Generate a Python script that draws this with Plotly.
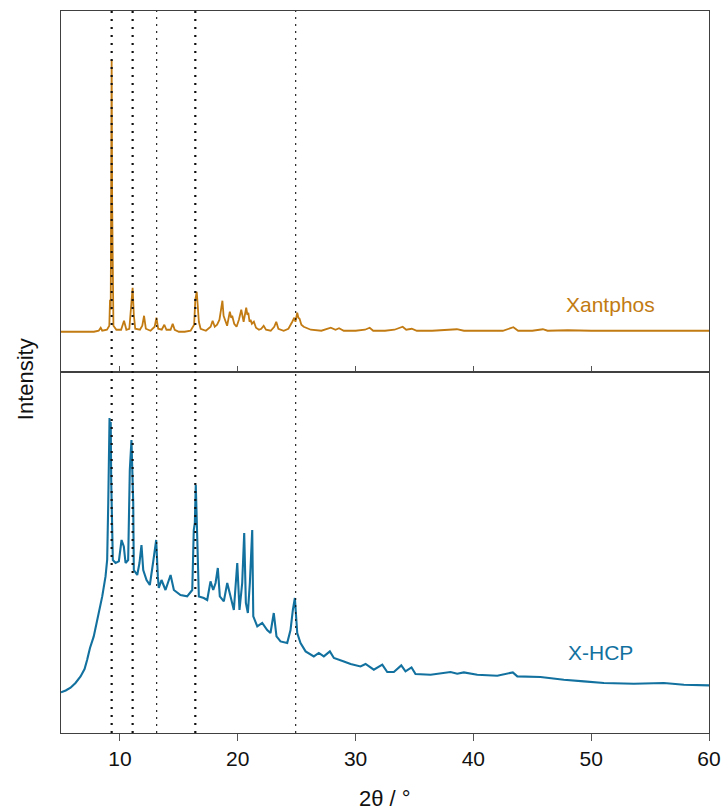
import plotly.graph_objects as go
from plotly.subplots import make_subplots

# ---- Xantphos (top panel) : 2theta and intensity (a.u.) ----
xantphos_2theta = [5.0, 7.8, 8.2, 8.37, 8.5, 8.9, 9.1, 9.16, 9.22, 9.27, 9.30, 9.34, 9.38, 9.45, 9.7,
                   10.1, 10.35, 10.55, 10.8, 11.0, 11.08, 11.18, 11.3, 11.7, 11.9, 12.05, 12.2, 12.6,
                   12.95, 13.1, 13.25, 13.55, 13.77, 13.95, 14.3, 14.48, 14.65, 15.0, 15.5, 16.0, 16.3,
                   16.4, 16.52, 16.6, 16.7, 16.85, 17.3, 17.7, 17.87, 18.05, 18.25, 18.45, 18.62, 18.7,
                   18.8, 18.95, 19.1, 19.33, 19.45, 19.53, 19.7, 19.9, 20.1, 20.3, 20.5, 20.72, 20.82,
                   20.9, 21.0, 21.09, 21.2, 21.37, 21.55, 21.8, 22.0, 22.2, 22.4, 22.8, 23.1, 23.27,
                   23.45, 23.9, 24.3, 24.63, 24.8, 24.9, 25.05, 25.15, 25.25, 25.4, 25.6, 26.2, 27.1,
                   27.9, 28.3, 28.6, 29.0, 30.0, 30.8, 31.2, 31.5, 32.5, 33.3, 34.0, 34.3, 34.77, 35.2,
                   36.5, 37.5, 38.6, 39.2, 41.0, 42.5, 43.4, 43.8, 45.0, 45.9, 46.3, 48.0, 50.0, 52.0,
                   53.0, 60.0]
xantphos_int = [0, 0, 1, 4, 1, 2, 6, 32, 22, 212, 272, 132, 32, 6, 2,
                2, 11, 2, 3, 27, 44, 17, 3, 2, 6, 16, 3, 1,
                5, 14, 3, 2, 7, 2, 2, 8, 2, 0, 0, 1, 7,
                32, 40, 27, 10, 3, 1, 5, 11, 5, 7, 12, 27, 31,
                16, 10, 6, 20, 14, 16, 8, 5, 12, 22, 10, 24, 17,
                19, 10, 12, 8, 10, 4, 2, 3, 6, 2, 1, 5, 10,
                3, 1, 3, 10, 14, 10, 19, 14, 13, 7, 5, 2, 1,
                4, 2, 3.5, 1, 1, 2, 4, 1, 1, 2, 5, 2, 3, 1,
                1, 1.5, 2.5, 1, 1, 1, 4.5, 1, 1, 2.5, 1, 1.5, 1, 1.5,
                1, 1]

# ---- X-HCP (bottom panel) ----
xhcp_2theta = [5.0, 5.4, 5.81, 6.23, 6.66, 7.0, 7.22, 7.46, 7.78, 8.0, 8.21, 8.5, 8.78, 8.92, 9.01,
               9.12, 9.17, 9.22, 9.26,
               9.40, 9.63, 9.91, 10.14, 10.33, 10.48, 10.70, 10.84, 10.98, 11.13, 11.18, 11.47, 11.66,
               11.83, 11.98, 12.26, 12.54, 12.83, 13.08, 13.22, 13.30, 13.53, 13.87, 14.30, 14.58,
               15.14, 15.71, 16.14, 16.27, 16.36, 16.44, 16.56, 16.70, 17.12, 17.41, 17.69, 17.92,
               18.12, 18.31, 18.48, 18.82, 19.11, 19.39, 19.67, 19.96, 20.15, 20.38, 20.55, 20.69,
               20.86, 21.03, 21.23, 21.32, 21.66, 22.08, 22.50, 22.78, 23.06, 23.29, 23.63, 24.20,
               24.48, 24.68, 24.85, 25.05, 25.33, 25.76, 26.46, 26.88, 27.31, 27.82, 28.16, 29.01,
               29.58, 30.42, 30.85, 31.55, 32.27, 32.69, 33.25, 33.88, 34.24, 34.75, 35.09, 36.37,
               38.06, 38.63, 39.19, 40.33, 42.03, 43.35, 43.73, 45.70, 47.12, 47.68, 49.38, 51.08,
               53.62, 56.17, 57.87, 60.0]
xhcp_int = [40.6, 42.5, 45.3, 50, 56.6, 64, 73.3, 85, 96.6, 108, 120.3, 136.6, 156.6, 173.3, 230,
            315, 293, 311, 253,
            173, 170, 171.6, 193, 186.6, 170, 173, 263, 293, 230, 163, 158, 170,
            188, 163, 153, 148, 171.6, 193, 156.6, 145, 153, 143, 158, 143,
            138, 136.6, 143, 203, 210, 248, 196.6, 136.6, 135, 133, 151.6, 143,
            150, 165, 136.6, 131.6, 150, 136.6, 123, 170, 123, 150, 200, 130,
            120, 150, 203, 116.6, 106.6, 110, 103, 100, 120, 96.6, 91.6, 90,
            103, 123, 135, 100, 90, 81.6, 76.6, 80, 76.6, 81.6, 75, 71.6,
            69, 66.6, 69, 63.3, 68.3, 61, 61, 67.6, 61.6, 65.6, 59, 58.3,
            61, 59.3, 60.6, 58.3, 57.3, 60.6, 56.6, 56, 54, 53.3, 51.6, 50,
            49.3, 50, 48.3, 47.6]

# reference reflection positions (dotted guide lines)
guide_positions = [9.3, 11.08, 13.12, 16.4, 24.92]
guide_bold = [True, True, False, True, False]

x_ticks = [10, 20, 30, 40, 50, 60]
x_range = [5, 60]
top_range = [-40.3, 321]
bottom_range = [0, 361]

top_color = "#C27B12"
bottom_color = "#13719F"
axis_color = "#404040"
font_family = "Liberation Sans, Arial, sans-serif"

fig = make_subplots(rows=2, cols=1, shared_xaxes=True, vertical_spacing=0)

fig.add_trace(go.Scatter(x=xantphos_2theta, y=xantphos_int, mode="lines",
                         line=dict(color=top_color, width=1.8), name="Xantphos",
                         showlegend=False), row=1, col=1)
fig.add_trace(go.Scatter(x=xhcp_2theta, y=xhcp_int, mode="lines",
                         line=dict(color=bottom_color, width=2.1), name="X-HCP",
                         showlegend=False), row=2, col=1)

for pos, bold in zip(guide_positions, guide_bold):
    fig.add_shape(type="line", xref="x", yref="paper", x0=pos, x1=pos, y0=0, y1=1,
                  line=dict(color="#111111", width=2.2 if bold else 1.1,
                            dash="2px,6px" if bold else "2px,5px"),
                  layer="above")

common_x = dict(range=x_range, tickvals=x_ticks, showline=True, mirror=True,
                linecolor=axis_color, linewidth=1, showgrid=False, zeroline=False,
                tickcolor="#555555", tickwidth=1)
fig.update_xaxes(**common_x, ticks="inside", ticklen=6, showticklabels=False, row=1, col=1)
fig.update_xaxes(**common_x, ticks="outside", ticklen=7, showticklabels=True,
                 tickfont=dict(family=font_family, size=21, color="#111111"), row=2, col=1)

common_y = dict(showline=True, mirror=True, linecolor=axis_color, linewidth=1,
                showgrid=False, zeroline=False, showticklabels=False, ticks="")
fig.update_yaxes(**common_y, range=top_range, row=1, col=1)
fig.update_yaxes(**common_y, range=bottom_range, row=2, col=1)

fig.add_annotation(x=51.6, y=27, xref="x", yref="y", text="Xantphos", showarrow=False,
                   font=dict(family=font_family, size=21, color=top_color))
fig.add_annotation(x=50.8, y=80.6, xref="x2", yref="y2", text="X-HCP", showarrow=False,
                   font=dict(family=font_family, size=21, color=bottom_color))
fig.add_annotation(x=0.5, y=-0.091, xref="paper", yref="paper", text="2θ / °",
                   showarrow=False, yanchor="middle",
                   font=dict(family=font_family, size=22, color="#111111"))
fig.add_annotation(x=0, y=0.49, xref="paper", yref="paper", xshift=-36, text="Intensity",
                   showarrow=False, textangle=-90, yanchor="middle", xanchor="center",
                   font=dict(family=font_family, size=22, color="#111111"))

# the page body keeps its 8px top/left offset; the figure is sized so the plot
# area lands at the same pixel position as the reference
fig.update_layout(width=718, height=804, autosize=False,
                  margin=dict(l=53, r=17, t=3, b=79),
                  plot_bgcolor="white", paper_bgcolor="white",
                  font=dict(family=font_family))

fig.write_html("out.html",
               config={"responsive": False, "displayModeBar": False},
               post_script="document.body.style.marginBottom='0';document.body.style.marginRight='0';")
